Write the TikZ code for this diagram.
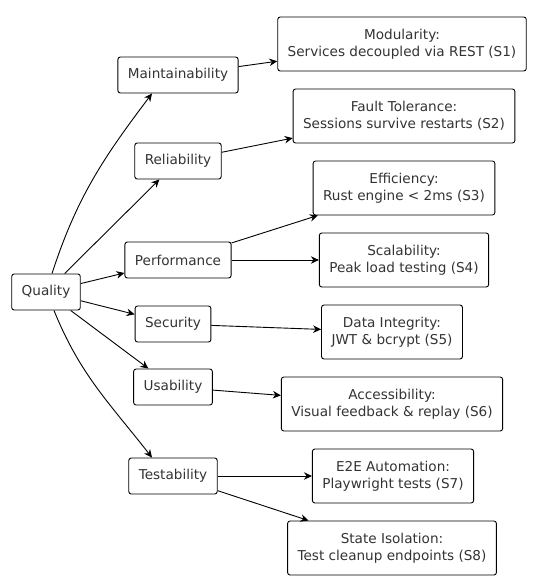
\documentclass[tikz,border=0pt]{standalone}
\usepackage{fontspec}
\setmainfont{DejaVu Sans}
\usetikzlibrary{arrows.meta}

\definecolor{labelgray}{RGB}{51,51,51}

\tikzset{
    attr/.style={draw, rounded corners=2.5pt, line width=0.9pt, inner xsep=10pt,
        minimum height=36pt, align=center, text=labelgray,
        font=\fontsize{13.6}{16.7}\selectfont},
    scen/.style={attr, minimum height=54pt},
    link/.style={-{Stealth[length=8pt,width=7.5pt]}, line width=0.9pt}
}

\begin{document}
\begin{tikzpicture}[x=1pt, y=-1pt, auto]

            \useasboundingbox (0,0) rectangle (538,580);

            % Root
            \node[attr] (Q) at (46,292) {Quality};

            % Quality attributes
            \node[attr] (Maint) at (178,75) {Maintainability};
            \node[attr] (Rel) at (178,161) {Reliability};
            \node[attr] (Perf) at (178,260) {Performance};
            \node[attr] (Sec) at (173,324) {Security};
            \node[attr] (Usab) at (173,387) {Usability};
            \node[attr] (Test) at (173,476) {Testability};

            % Scenarios
            \node[scen] (S1) at (402,44) {Modularity:\\Services decoupled via REST (S1)};
            \node[scen] (S2) at (404,116) {Fault Tolerance:\\Sessions survive restarts (S2)};
            \node[scen] (S3) at (404,188) {Efficiency:\\Rust engine < 2ms (S3)};
            \node[scen] (S4) at (404,260) {Scalability:\\Peak load testing (S4)};
            \node[scen] (S5) at (392,332) {Data Integrity:\\JWT \& bcrypt (S5)};
            \node[scen] (S6) at (392,404) {Accessibility:\\Visual feedback \& replay (S6)};
            \node[scen] (S7) at (393,476) {E2E Automation:\\Playwright tests (S7)};
            \node[scen] (S8) at (392,548) {State Isolation:\\Test cleanup endpoints (S8)};

            % Root to attributes
            \draw[link] (Q.north) ++(6,0) coordinate (qn) to[out=72, in=233] (Maint.south -| 152,0);
            \draw[link] (Q) -- (Rel);
            \draw[link] (Q) -- (Perf);
            \draw[link] (Q) -- (Sec);
            \draw[link] (Q) -- (Usab);
            \draw[link] (Q.south) ++(8,0) coordinate (qs) to[out=-68, in=128] (Test.north -| 152,0);

            % Attributes to scenarios
            \draw[link] (Maint) -- (S1);
            \draw[link] (Rel) -- (S2);
            \draw[link] (Perf) -- (S3);
            \draw[link] (Perf) -- (S4);
            \draw[link] (Sec) -- (S5);
            \draw[link] (Usab) -- (S6);
            \draw[link] (Test) -- (S7);
            \draw[link] (Test) -- (S8);

            \end{tikzpicture}
\end{document}
